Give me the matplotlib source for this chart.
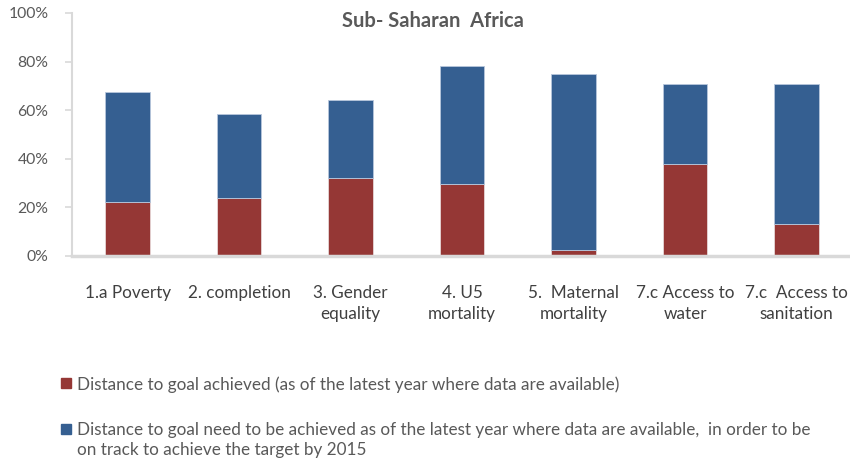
import matplotlib.pyplot as plt
from matplotlib.patches import Rectangle
from matplotlib import font_manager

categorias = ['1.a Poverty', '2. completion', '3. Gender\nequality', '4. U5\nmortality',
              '5.  Maternal\nmortality', '7.c Access to\nwater', '7.c  Access to\nsanitation']
alcancado = [22.2, 23.7, 31.9, 29.6, 2.5, 37.9, 13.2]
falta = [45.1, 34.6, 32.3, 48.4, 72.4, 32.9, 57.6]
legendas = ['Distance to goal achieved (as of the latest year where data are available)',
            'Distance to goal need to be achieved as of the latest year where data are available,  in order to be\non track to achieve the target by 2015']
titulo = 'Sub- Saharan  Africa'
yticks = [0, 20, 40, 60, 80, 100]

cor_vermelha = '#953735'
cor_azul = '#355F91'
cinza_txt = '#595959'

fig = plt.figure(figsize=(8.5, 4.62), dpi=100)
renderer = fig.canvas.get_renderer()


def largura(texto, props):
    t = fig.text(0, 0, texto, fontproperties=props)
    w = t.get_window_extent(renderer).width
    t.remove()
    return w


def ajustar(texto, alvo_px, peso='normal'):
    # tamanho de fonte para o texto ocupar alvo_px de largura
    nomes = {f.name for f in font_manager.fontManager.ttflist}
    familia = next(c for c in ['Lato', 'Open Sans', 'Roboto', 'DejaVu Sans'] if c in nomes)
    p = font_manager.FontProperties(family=familia, weight=peso, size=10)
    p.set_size(10 * alvo_px / largura(texto, p))
    return p


fonte_txt = ajustar(legendas[0], 541)
fonte_tit = ajustar(titulo, 182, 'bold')
fonte_y = ajustar('100%', 40)
px = fonte_txt.get_size() * 100 / 72

ax = fig.add_axes([0.0847, 0.4459, 0.918, 0.526])

x = list(range(len(categorias)))
ax.bar(x, alcancado, width=0.4, color=cor_vermelha, edgecolor='#e6d6d6', linewidth=0.6)
ax.bar(x, falta, bottom=alcancado, width=0.4, color=cor_azul, edgecolor='#b8c7dc', linewidth=0.6)

ax.set_xlim(-0.5, len(categorias) - 0.5)
ax.set_ylim(0, 100)
ax.set_yticks(yticks)
ax.set_yticklabels([f'{v}%' for v in yticks], color=cinza_txt)
for lbl in ax.get_yticklabels():
    lbl.set_fontproperties(fonte_y)
ax.set_xticks(x)
ax.set_xticklabels(categorias, color='#404040', linespacing=1.12 * 21.3 / px)
for lbl in ax.get_xticklabels():
    lbl.set_fontproperties(fonte_txt)
ax.tick_params(axis='x', length=0, pad=21)
ax.tick_params(axis='y', length=5, width=1.2, color='#d9d9d9', pad=12)

for s in ['top', 'right']:
    ax.spines[s].set_visible(False)
ax.spines['left'].set_color('#d9d9d9')
ax.spines['left'].set_linewidth(1.5)
ax.spines['bottom'].set_color('#d9d9d9')
ax.spines['bottom'].set_linewidth(2.5)

ax.text(0.462, 0.966, titulo, transform=ax.transAxes, ha='center', va='center',
        fontproperties=fonte_tit, color=cinza_txt)

# legenda manual
cores = [cor_vermelha, cor_azul]
ys = [378, 424]
for cor, rotulo, y in zip(cores, legendas, ys):
    fig.patches.append(Rectangle((61 / 850, 1 - (y + 10) / 462), 10 / 850, 10 / 462,
                                 transform=fig.transFigure, color=cor))
    fig.text(77 / 850, 1 - (y - 2) / 462, rotulo, ha='left', va='top',
             fontproperties=fonte_txt, color=cinza_txt, linespacing=1.12 * 20 / px)

fig.savefig('out.png', dpi=100)
